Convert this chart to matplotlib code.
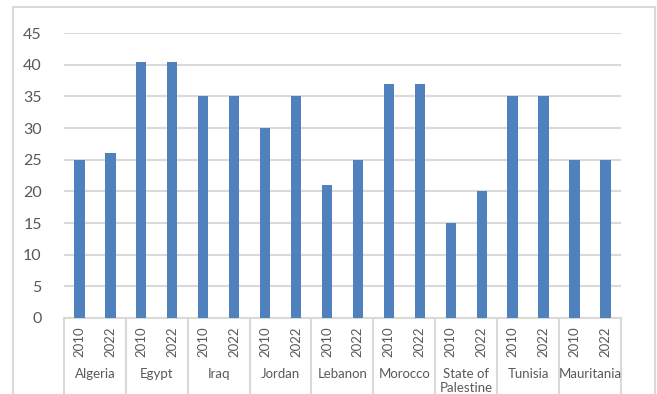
import numpy as np
import matplotlib
matplotlib.use("Agg")
import matplotlib.pyplot as plt
from matplotlib.lines import Line2D
from matplotlib.transforms import blended_transform_factory

plt.rcParams['font.family'] = ['Lato', 'DejaVu Sans']

# -----------------------------
# Data
# -----------------------------
countries = ['Algeria', 'Egypt', 'Iraq', 'Jordan', 'Lebanon', 'Morocco',
             'State of\nPalestine', 'Tunisia', 'Mauritania']
years = ['2010', '2022']
values_2010 = [25, 40.4, 35, 30, 21, 37, 15, 35, 25]
values_2022 = [26, 40.4, 35, 35, 25, 37, 20, 35, 25]
y_ticks = [0, 5, 10, 15, 20, 25, 30, 35, 40, 45]

BAR_COLOR = '#4F81BD'
GRID_COLOR = '#D9D9D9'
TEXT_COLOR = '#595959'

# one slot per (country, year) pair
heights = np.ravel(np.column_stack([values_2010, values_2022]))
slots = np.arange(len(heights))

fig = plt.figure(figsize=(6.57, 3.94), dpi=100)
ax = fig.add_axes([0.0974, 0.193, 0.8476, 0.723])

ax.bar(slots, heights, width=0.33, color=BAR_COLOR, zorder=3)
ax.set_xlim(-0.5, len(slots) - 0.5)
ax.set_ylim(0, 45)
ax.set_yticks(y_ticks)
ax.set_yticklabels([str(t) for t in y_ticks], fontsize=11.5, color=TEXT_COLOR)
ax.tick_params(axis='y', length=0, pad=16)
ax.set_xticks([])
ax.yaxis.grid(True, color=GRID_COLOR, linewidth=1.5, zorder=0)
ax.set_axisbelow(True)
for side in ['top', 'right', 'left']:
    ax.spines[side].set_visible(False)
ax.spines['bottom'].set_color(GRID_COLOR)
ax.spines['bottom'].set_linewidth(1.5)

# two-level category axis: years, then countries, with group separators
trans = blended_transform_factory(ax.transData, ax.transAxes)
for s in slots:
    ax.text(s, -0.03, years[s % 2], transform=trans, rotation=90,
            ha='center', va='top', fontsize=9.5, color=TEXT_COLOR)
for i, name in enumerate(countries):
    ax.text(2 * i + 0.5, -0.175, name, transform=trans, ha='center',
            va='top', fontsize=9.5, color=TEXT_COLOR, linespacing=1.25)
for b in np.arange(len(countries) + 1) * 2 - 0.5:
    ax.plot([b, b], [0, -0.3], transform=trans, color=GRID_COLOR,
            linewidth=1.5, clip_on=False)

# outer chart frame
for xs, ys in [([0.02, 0.02], [0, 0.982]), ([0.02, 0.997], [0.982, 0.982]),
               ([0.997, 0.997], [0.982, 0])]:
    fig.add_artist(Line2D(xs, ys, transform=fig.transFigure,
                          color=GRID_COLOR, linewidth=1.5))

fig.savefig('out.png', dpi=100)
